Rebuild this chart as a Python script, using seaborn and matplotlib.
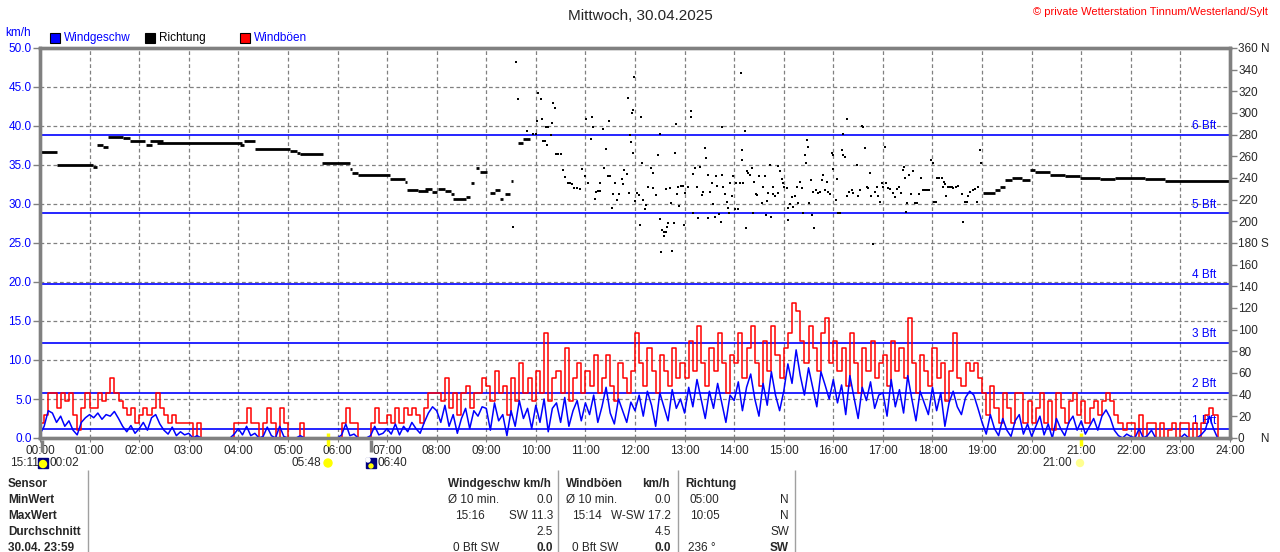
import numpy as np
import matplotlib
matplotlib.use('Agg')
import matplotlib.pyplot as plt
from matplotlib.patches import Rectangle, Circle
from matplotlib.ticker import FormatStrFormatter
import seaborn as sns

# 1. --- Data (5-minute steps, km/h) ---
speed_rows = [
    [0.5, 1.5, 3.5, 3.2, 2.0, 2.8, 1.5, 2.2, 1.0, 0.4, 2.0, 2.6],   # 00
    [3.0, 2.6, 3.2, 2.4, 3.0, 2.8, 3.4, 2.5, 1.5, 0.8, 1.6, 0.6],   # 01
    [1.2, 2.0, 1.0, 2.6, 3.0, 1.8, 1.0, 0.5, 1.4, 0.3, 0.8, 0.4],   # 02
    [0.6, 0.0, 0.3, 0.0, 0.0, 0.0, 0.0, 0.0, 0.0, 0.0, 0.0, 0.5],   # 03
    [1.2, 0.4, 1.5, 0.3, 0.6, 0.0, 0.2, 1.4, 0.3, 0.0, 1.5, 0.2],   # 04
    [0.0, 0.0, 0.0, 0.3, 0.0, 0.0, 0.0, 0.0, 0.0, 0.0, 0.0, 0.0],   # 05
    [0.0, 0.4, 1.8, 0.3, 0.5, 0.0, 0.0, 0.0, 0.3, 1.5, 0.4, 0.6],   # 06
    [1.2, 0.5, 1.8, 0.4, 1.5, 0.8, 2.0, 1.2, 0.6, 2.0, 3.2, 4.0],   # 07
    [3.5, 2.0, 4.2, 1.5, 3.0, 0.6, 2.5, 3.8, 1.2, 3.5, 2.8, 4.0],   # 08
    [3.8, 1.0, 4.5, 2.2, 3.0, 0.3, 3.5, 1.5, 4.8, 2.5, 3.8, 1.2],   # 09
    [4.2, 2.0, 5.0, 0.8, 3.8, 4.5, 2.0, 5.2, 1.5, 3.5, 4.8, 2.2],   # 10
    [4.5, 3.0, 5.5, 2.0, 4.0, 6.5, 3.2, 1.8, 5.0, 3.5, 2.0, 4.6],   # 11
    [3.5, 5.5, 2.8, 6.0, 4.2, 1.5, 5.8, 4.0, 2.2, 6.2, 3.8, 5.0],   # 12
    [3.2, 6.5, 4.0, 7.5, 5.0, 2.5, 6.0, 3.8, 7.0, 4.5, 2.0, 5.5],   # 13
    [4.8, 7.2, 3.5, 6.5, 8.2, 5.0, 2.8, 7.0, 4.2, 8.5, 5.5, 3.5],   # 14
    [6.0, 9.5, 7.0, 11.3, 8.0, 5.5, 9.0, 6.5, 4.0, 8.5, 6.8, 5.0],  # 15
    [7.5, 4.5, 6.8, 3.0, 8.0, 5.2, 2.5, 6.5, 4.8, 7.2, 3.8, 5.5],   # 16
    [5.8, 2.8, 7.5, 4.0, 6.2, 3.2, 8.0, 5.0, 2.2, 6.0, 4.5, 3.0],   # 17
    [6.5, 3.5, 5.8, 1.5, 4.5, 6.0, 4.0, 3.0, 5.2, 6.0, 5.5, 3.8],   # 18
    [2.0, 0.5, 3.0, 1.2, 0.3, 2.5, 1.0, 0.2, 2.2, 3.0, 0.5, 1.8],   # 19
    [0.2, 1.5, 2.8, 0.4, 1.8, 0.0, 2.5, 1.2, 0.3, 2.0, 2.8, 1.0],   # 20
    [2.2, 0.5, 1.5, 2.5, 1.0, 2.8, 3.6, 2.6, 1.0, 0.3, 0.0, 0.5],   # 21
    [0.2, 0.0, 1.2, 0.0, 0.3, 1.0, 0.0, 0.0, 0.0, 0.0, 0.0, 0.0],   # 22
    [0.0, 0.5, 0.0, 0.0, 0.0, 0.4, 1.0, 2.8, 1.2, 0.0, 0.0, 0.0],   # 23
]
gust_rows = [
    [1.9, 2.9, 5.8, 5.8, 3.8, 5.8, 4.8, 5.8, 2.9, 1.0, 3.8, 5.8],
    [3.8, 3.8, 5.8, 4.8, 5.8, 7.7, 5.8, 4.8, 3.8, 2.9, 3.8, 1.9],
    [2.9, 3.8, 2.9, 3.8, 5.8, 3.8, 2.9, 1.9, 2.9, 1.9, 1.9, 1.9],
    [1.9, 0.0, 1.9, 0.0, 0.0, 0.0, 0.0, 0.0, 0.0, 0.0, 0.0, 1.9],
    [1.9, 1.9, 3.8, 1.9, 1.9, 0.0, 1.9, 3.8, 1.9, 0.0, 3.8, 1.9],
    [0.0, 0.0, 0.0, 1.9, 0.0, 0.0, 0.0, 0.0, 0.0, 0.0, 0.0, 0.0],
    [0.0, 1.9, 3.8, 1.9, 1.9, 0.0, 0.0, 0.0, 1.9, 3.8, 1.9, 1.9],
    [2.9, 1.9, 3.8, 1.9, 3.8, 2.9, 3.8, 2.9, 1.9, 3.8, 5.8, 5.8],
    [5.8, 4.8, 7.7, 3.8, 5.8, 2.9, 5.8, 6.7, 3.8, 5.8, 5.8, 7.7],
    [6.7, 4.8, 8.6, 5.8, 6.7, 2.9, 7.7, 4.8, 9.6, 5.8, 7.7, 4.8],
    [8.6, 5.8, 13.4, 4.8, 7.7, 8.6, 5.8, 11.5, 4.8, 7.7, 9.6, 5.8],
    [8.6, 6.7, 10.6, 5.8, 7.7, 10.6, 6.7, 4.8, 9.6, 7.7, 5.8, 8.6],
    [13.4, 9.6, 6.7, 11.5, 8.6, 5.8, 10.6, 8.6, 6.7, 11.5, 7.7, 9.6],
    [7.7, 12.5, 8.6, 14.4, 9.6, 6.7, 11.5, 8.6, 13.4, 9.6, 5.8, 10.6],
    [9.6, 13.4, 7.7, 11.5, 14.4, 9.6, 6.7, 12.5, 8.6, 14.4, 10.6, 7.7],
    [11.5, 13.4, 17.3, 16.3, 12.5, 9.6, 14.4, 11.5, 8.6, 13.4, 15.4, 9.6],
    [12.5, 8.6, 11.5, 6.7, 13.4, 9.6, 5.8, 11.5, 8.6, 12.5, 7.7, 9.6],
    [10.6, 6.7, 12.5, 8.6, 11.5, 7.7, 15.4, 9.6, 5.8, 10.6, 8.6, 6.7],
    [11.5, 7.7, 9.6, 4.8, 8.6, 13.4, 7.7, 6.7, 9.6, 8.6, 9.6, 7.7],
    [5.8, 2.9, 6.7, 3.8, 1.9, 5.8, 3.8, 1.9, 5.8, 5.8, 1.9, 4.8],
    [1.9, 3.8, 5.8, 1.9, 4.8, 1.0, 5.8, 3.8, 1.9, 4.8, 5.8, 2.9],
    [4.8, 1.9, 3.8, 4.8, 2.9, 4.8, 5.8, 4.8, 2.9, 1.9, 1.0, 1.9],
    [1.9, 0.0, 2.9, 0.0, 1.9, 1.9, 0.0, 1.9, 0.0, 1.0, 1.9, 0.0],
    [1.9, 1.9, 0.0, 1.9, 0.0, 1.9, 2.9, 3.8, 2.9, 0.0, 0.0, 0.0],
]

# wind direction: steady stretches (minute of day -> degrees)
seg_start = [0, 21, 64, 69, 76, 82, 100, 109, 128, 133, 142, 242, 247, 260, 303, 311, 315, 341, 375, 378,
             385, 424, 442, 444, 457, 466, 474, 482, 490, 497, 500, 515, 522, 528, 532, 545, 551, 557, 563, 570,
             578, 584, 1141, 1156, 1162, 1168, 1176, 1188, 1198, 1204, 1222, 1240, 1258, 1283, 1301, 1337, 1361]
seg_end = [21, 64, 69, 76, 82, 100, 109, 127, 136, 149, 244, 247, 260, 303, 311, 315, 342, 375, 378, 385,
           424, 442, 444, 457, 470, 474, 480, 490, 497, 501, 515, 520, 525, 531, 541, 551, 557, 560, 569, 572,
           584, 593, 1156, 1162, 1168, 1176, 1188, 1198, 1204, 1222, 1240, 1258, 1283, 1301, 1337, 1361, 1440]
seg_deg = [264, 252, 250, 270, 269, 277.5, 276.5, 274, 270, 274, 272.5, 270, 274, 267, 265, 263, 262, 254, 248, 245,
           242.5, 239, 236, 229, 228, 229.5, 227, 230, 228, 225, 221, 222.5, 235, 249, 245.5, 226, 229, 220.5, 225, 237,
           272, 276, 226, 229, 232, 238, 240, 238, 247, 245.5, 243, 242, 240, 239, 240, 239, 237]

# wind direction: scattered single readings (minute of day, degrees)
dir_dots = [
    (572, 195), (576, 347), (578, 313), (589, 283), (597, 281), (600, 281), (601, 293), (603, 318), (606, 313),
    (607, 294), (609, 274), (611, 274), (614, 270), (612, 287), (615, 287), (620, 291), (621, 309), (623, 305),
    (618, 280), (624, 262), (627, 262), (630, 262), (633, 247), (635, 241), (639, 235), (641, 235), (644, 234),
    (646, 231), (650, 231), (653, 230), (656, 248), (660, 242), (661, 294), (663, 235), (667, 276), (668, 296),
    (669, 287), (672, 221), (673, 227), (675, 228), (678, 228), (678, 235), (682, 249), (681, 285), (685, 267),
    (687, 242), (690, 242), (689, 293), (692, 212), (693, 225), (696, 235), (698, 220), (701, 225), (704, 239),
    (705, 234), (707, 247), (710, 244), (712, 314), (713, 226), (714, 280), (715, 273), (716, 300), (718, 303),
    (718, 263), (719, 333), (720, 219), (722, 226), (725, 224), (726, 197), (727, 296), (728, 254), (730, 220),
    (732, 211), (733, 215), (736, 232), (739, 249), (742, 245), (742, 231), (745, 224), (748, 261), (750, 281),
    (750, 202), (753, 192), (755, 190), (755, 186), (758, 190), (760, 198), (751, 172), (759, 195), (758, 230),
    (762, 231), (764, 217), (765, 173), (767, 198), (768, 263), (770, 290), (771, 225), (772, 232), (773, 214),
    (776, 233), (778, 233), (779, 197), (781, 226), (784, 232), (788, 302), (788, 296), (790, 208), (790, 244),
    (793, 249), (795, 232), (796, 203), (799, 250), (801, 224), (802, 227), (805, 268), (806, 258), (808, 243),
    (808, 203), (811, 227), (813, 235), (814, 216), (817, 204), (818, 242), (819, 233), (822, 207), (824, 199),
    (825, 287), (825, 243), (827, 232), (829, 225), (831, 218), (833, 212), (834, 208), (835, 235), (837, 223),
    (839, 242), (841, 211), (842, 235), (845, 211), (847, 235), (848, 337), (850, 257), (850, 266), (851, 235),
    (853, 283), (854, 194), (856, 246), (857, 245), (859, 243), (862, 249), (863, 208), (864, 236), (866, 225),
    (868, 224), (870, 242), (874, 217), (875, 232), (877, 242), (879, 206), (880, 219), (881, 226), (883, 252),
    (885, 204), (887, 232), (887, 225), (889, 223), (893, 251), (893, 226), (895, 246), (898, 239), (899, 235),
    (900, 232), (904, 231), (905, 201), (905, 212), (908, 216), (910, 222), (911, 213), (914, 223), (916, 232),
    (917, 217), (920, 236), (922, 231), (923, 208), (926, 261), (927, 254), (928, 275), (929, 269), (931, 217),
    (933, 238), (934, 206), (935, 227), (937, 194), (939, 229), (941, 226), (944, 227), (946, 238), (947, 243),
    (950, 229), (952, 236), (954, 227), (956, 225), (958, 263), (960, 248), (960, 261), (963, 220), (964, 239),
    (966, 208), (968, 208), (971, 266), (972, 261), (972, 281), (974, 259), (977, 294), (977, 223), (979, 227),
    (983, 229), (984, 226), (989, 252), (990, 223), (992, 229), (995, 288), (996, 287), (998, 268), (1001, 232),
    (1002, 231), (1004, 245), (1006, 223), (1008, 179), (1010, 227), (1013, 232), (1014, 223), (1016, 218),
    (1019, 235), (1020, 232), (1023, 269), (1024, 235), (1026, 231), (1029, 230), (1032, 226), (1035, 222),
    (1037, 230), (1039, 232), (1042, 226), (1044, 247), (1046, 250), (1047, 240), (1048, 209), (1049, 217),
    (1052, 243), (1054, 225), (1056, 246), (1059, 217), (1061, 217), (1064, 225), (1066, 240), (1069, 229),
    (1071, 229), (1073, 229), (1076, 229), (1078, 257), (1081, 254), (1082, 218), (1084, 218), (1085, 240),
    (1088, 240), (1091, 240), (1093, 232), (1094, 236), (1095, 234), (1096, 223), (1099, 232), (1101, 232),
    (1104, 232), (1105, 231), (1108, 232), (1111, 233), (1116, 225), (1117, 199), (1119, 218), (1122, 218),
    (1123, 223), (1125, 227), (1129, 229), (1131, 230), (1134, 218), (1135, 232), (1137, 266), (1139, 254),
]

bft_levels = [1.1, 5.8, 12.2, 19.8, 28.8, 38.9]
bft_names = ['1 Bft', '2 Bft', '3 Bft', '4 Bft', '5 Bft', '6 Bft']
hour_labels = [f'{h:02d}:00' for h in range(25)]
dir_ticks = list(range(0, 361, 20))
dir_names = {0: '0     N', 180: '180 S', 360: '360 N'}
sun_marks = [5.8, 21.0]       # 05:48, 21:00
moon_marks = [0.033, 6.667]   # 00:02, 06:40

speed = np.array(speed_rows).ravel()
gust = np.array(gust_rows).ravel()
t = np.arange(len(speed)) / 12.0
dot_hours = np.array([d[0] for d in dir_dots]) / 60.0
dot_deg = np.array([d[1] for d in dir_dots])

# 2. --- Figure ---
sns.set_style('white')
plt.rcParams['font.family'] = ['Liberation Sans', 'DejaVu Sans']
W, H = 1280, 552
fig = plt.figure(figsize=(12.8, 5.52), dpi=100)
ax = fig.add_axes([40 / W, 1 - 438 / H, 1190 / W, 390 / H])
gray = '#808080'
blue = '#0000ff'

ax.set_xlim(0, 24)
ax.set_ylim(0, 50)
ax.set_xticks(range(25))
ax.set_xticklabels(hour_labels)
ax.set_yticks(np.arange(0, 51, 5))
ax.yaxis.set_major_formatter(FormatStrFormatter('%.1f'))
ax.grid(True, color=gray, ls=(0, (3, 2.2)), lw=0.9)
ax.set_axisbelow(True)
ax.tick_params(axis='x', length=3, color=gray, labelsize=8.5, pad=2, bottom=True)
ax.tick_params(axis='y', length=5, width=1, color=gray, labelcolor=blue, labelsize=8.5, pad=1, left=True)

for lvl, name in zip(bft_levels, bft_names):
    ax.axhline(lvl, color=blue, lw=1.2, zorder=1.5)
    ax.text(23.72, lvl + 0.35, name, ha='right', va='bottom', color=blue, fontsize=8.5)

sns.lineplot(x=t, y=gust, ax=ax, color='#ff0000', lw=1.1, drawstyle='steps-post', zorder=3)
sns.lineplot(x=t, y=speed, ax=ax, color=blue, lw=1.1, zorder=4)
ax.set_xlabel('')
ax.set_ylabel('')

ax.vlines(sun_marks, -1.0, 0.7, color='#ffff00', lw=2.5, clip_on=False, zorder=6)
ax.vlines(moon_marks, -1.8, -0.2, color=gray, lw=2.5, clip_on=False, zorder=6)

# direction on the right axis
ax2 = ax.twinx()
ax2.set_ylim(0, 360)
ax2.set_yticks(dir_ticks)
ax2.set_yticklabels([dir_names.get(d, str(d)) for d in dir_ticks])
ax2.tick_params(axis='y', length=5, width=1, color=gray, labelsize=8.5, pad=1, right=True)
ax2.hlines(seg_deg, np.array(seg_start) / 60.0, np.array(seg_end) / 60.0, color='black', lw=2.0)
sns.scatterplot(x=dot_hours, y=dot_deg, ax=ax2, marker='s', s=3, color='black', linewidth=0)
ax2.set_xlabel('')
ax2.set_ylabel('')

for a in (ax, ax2):
    for s in a.spines.values():
        s.set_color(gray)
        s.set_linewidth(2.4)
        s.set_visible(True)

# 3. --- Decorations in pixel coordinates ---
ov = fig.add_axes([0, 0, 1, 1])
ov.set_xlim(0, W)
ov.set_ylim(H, 0)
ov.axis('off')
ov.patch.set_visible(False)

fs = 8.5
ov.text(640, 16, 'Mittwoch, 30.04.2025', ha='center', va='center', fontsize=11)
ov.text(1268, 12, '© private Wetterstation Tinnum/Westerland/Sylt', ha='right', va='center',
        fontsize=8, color='#ff0000')
ov.text(5, 33, 'km/h', ha='left', va='center', fontsize=fs, color=blue)

legend_items = [(50, blue, 'Windgeschw', blue), (145, 'black', 'Richtung', 'black'),
                (240, '#ff0000', 'Windböen', blue)]
for x0, fc, label, tc in legend_items:
    ov.add_patch(Rectangle((x0, 33), 10, 10, facecolor=fc, edgecolor='black', lw=0.8))
    ov.text(x0 + 14, 38, label, ha='left', va='center', fontsize=fs, color=tc)

# sun and moon times under the axis
ov.text(10, 463, '15:11', ha='left', va='center', fontsize=fs)
ov.add_patch(Rectangle((38, 458), 10, 10, color='#000080'))
ov.add_patch(Circle((43, 464), 3.5, color='#ffff00'))
ov.text(50, 463, '00:02', ha='left', va='center', fontsize=fs)
ov.text(321, 463, '05:48', ha='right', va='center', fontsize=fs)
ov.add_patch(Circle((328, 463), 4, color='#ffff00'))
ov.add_patch(Rectangle((366, 458), 10, 10, color='#000080'))
ov.add_patch(Circle((368, 460), 2, color='white'))
ov.add_patch(Circle((371, 466), 2, color='#ffff00'))
ov.text(378, 463, '06:40', ha='left', va='center', fontsize=fs)
ov.text(1072, 463, '21:00', ha='right', va='center', fontsize=fs)
ov.add_patch(Circle((1080, 463), 3.5, color='#ffff90'))

# summary table
ov.vlines([88, 558, 678, 795], 470, 552, color='#a0a0a0', lw=1)
rows_y = [484, 500, 516, 532, 548]
for y, lab in zip(rows_y, ['Sensor', 'MinWert', 'MaxWert', 'Durchschnitt', '30.04. 23:59']):
    ov.text(8, y, lab, ha='left', va='center', fontsize=fs, fontweight='bold')

cells = [
    (448, 484, 'Windgeschw km/h', 'left', 'bold'),
    (566, 484, 'Windböen', 'left', 'bold'), (670, 484, 'km/h', 'right', 'bold'),
    (685, 484, 'Richtung', 'left', 'bold'),
    (448, 500, 'Ø 10 min.', 'left', 'normal'), (553, 500, '0.0', 'right', 'normal'),
    (566, 500, 'Ø 10 min.', 'left', 'normal'), (671, 500, '0.0', 'right', 'normal'),
    (690, 500, '05:00', 'left', 'normal'), (789, 500, 'N', 'right', 'normal'),
    (455, 516, '15:16', 'left', 'normal'), (553, 516, 'SW 11.3', 'right', 'normal'),
    (572, 516, '15:14', 'left', 'normal'), (671, 516, 'W-SW 17.2', 'right', 'normal'),
    (690, 516, '10:05', 'left', 'normal'), (789, 516, 'N', 'right', 'normal'),
    (553, 532, '2.5', 'right', 'normal'), (671, 532, '4.5', 'right', 'normal'),
    (789, 532, 'SW', 'right', 'normal'),
    (453, 548, '0 Bft SW', 'left', 'normal'), (553, 548, '0.0', 'right', 'bold'),
    (572, 548, '0 Bft SW', 'left', 'normal'), (671, 548, '0.0', 'right', 'bold'),
    (688, 548, '236 °', 'left', 'normal'), (789, 548, 'SW', 'right', 'bold'),
]
for x, y, txt, ha, fw in cells:
    ov.text(x, y, txt, ha=ha, va='center', fontsize=fs, fontweight=fw)

fig.savefig('out.png', dpi=100)
